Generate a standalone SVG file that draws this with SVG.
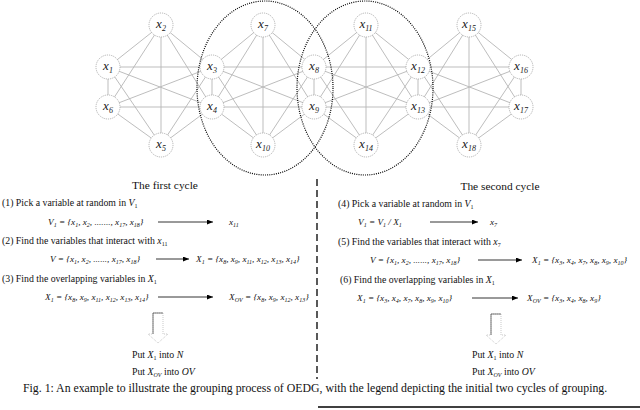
<svg xmlns="http://www.w3.org/2000/svg" width="640" height="410" viewBox="0 0 640 410">
<defs>
<style>
.t{font-family:"Liberation Serif","Times New Roman",serif;font-size:9.8px;fill:#111}
.h{font-family:"Liberation Serif","Times New Roman",serif;font-size:11.4px;fill:#111;text-anchor:middle}
.m{font-family:"Liberation Serif","Times New Roman",serif;font-size:9.2px;font-style:italic;fill:#111}
.i{font-style:italic}
.s{font-size:6px}
.cap{font-family:"Liberation Serif","Times New Roman",serif;font-size:11.8px;fill:#111}
.edge{stroke:#b5b5b5;stroke-width:0.9;fill:none}
.node circle{fill:#fff;stroke:#a0a0a0;stroke-width:0.8;stroke-dasharray:1.2 1}
.node text{font-family:"Liberation Serif","Times New Roman",serif;font-size:13px;font-style:italic;fill:#222;text-anchor:middle}
.node .ns{font-size:8px}
.ell{fill:none;stroke:#000;stroke-width:1.2;stroke-dasharray:1 1.2}
.arr{stroke:#000;stroke-width:0.8;marker-end:url(#ah)}
.div{stroke:#000;stroke-width:1.3;stroke-dasharray:7 4}
.ha{fill:#fff;stroke:#bbb;stroke-width:0.8;stroke-dasharray:1 1}
.hl{fill:none;stroke:#555;stroke-width:0.8}
</style>
<marker id="ah" markerWidth="6" markerHeight="5" refX="6" refY="2.5" orient="auto" markerUnits="userSpaceOnUse"><path d="M0,0L6,2.5L0,5z" fill="#000"/></marker>
</defs>
<rect width="640" height="410" fill="#fff"/>
<g id="connectors">
<path class="edge" d="M108 67L161 25M108 67L212 67M108 67L212 107M108 67L161 145M108 67L108 107M161 25L212 67M161 25L212 107M161 25L161 145M161 25L108 107M212 67L212 107M212 67L161 145M212 67L108 107M212 107L161 145M212 107L108 107M161 145L108 107
M212 67L263 25M212 67L314 67M212 67L314 107M212 67L263 145M212 107L263 25M212 107L314 67M212 107L314 107M212 107L263 145M263 25L314 67M263 25L314 107M263 25L263 145M314 67L314 107M314 67L263 145M314 107L263 145
M314 67L366 25M314 67L418 67M314 67L418 107M314 67L366 145M314 107L366 25M314 107L418 67M314 107L418 107M314 107L366 145M366 25L418 67M366 25L418 107M366 25L366 145M418 67L418 107M418 67L366 145M418 107L366 145
M418 67L469 25M418 67L521 67M418 67L521 107M418 67L469 145M418 107L469 25M418 107L521 67M418 107L521 107M418 107L469 145M469 25L521 67M469 25L521 107M469 25L469 145M521 67L521 107M521 67L469 145M521 107L469 145"/>
</g>
<g id="n1" class="node"><circle cx="108" cy="67" r="12"/><text x="108" y="70">x<tspan class="ns" dy="3">1</tspan></text></g>
<g id="n2" class="node"><circle cx="161" cy="25" r="12"/><text x="161" y="28">x<tspan class="ns" dy="3">2</tspan></text></g>
<g id="n3" class="node"><circle cx="212" cy="67" r="12"/><text x="212" y="70">x<tspan class="ns" dy="3">3</tspan></text></g>
<g id="n4" class="node"><circle cx="212" cy="107" r="12"/><text x="212" y="110">x<tspan class="ns" dy="3">4</tspan></text></g>
<g id="n5" class="node"><circle cx="161" cy="145" r="12"/><text x="161" y="148">x<tspan class="ns" dy="3">5</tspan></text></g>
<g id="n6" class="node"><circle cx="108" cy="107" r="12"/><text x="108" y="110">x<tspan class="ns" dy="3">6</tspan></text></g>
<g id="n7" class="node"><circle cx="263" cy="25" r="12"/><text x="263" y="28">x<tspan class="ns" dy="3">7</tspan></text></g>
<g id="n8" class="node"><circle cx="314" cy="67" r="12"/><text x="314" y="70">x<tspan class="ns" dy="3">8</tspan></text></g>
<g id="n9" class="node"><circle cx="314" cy="107" r="12"/><text x="314" y="110">x<tspan class="ns" dy="3">9</tspan></text></g>
<g id="n10" class="node"><circle cx="263" cy="145" r="12"/><text x="263" y="148">x<tspan class="ns" dy="3">10</tspan></text></g>
<g id="n11" class="node"><circle cx="366" cy="25" r="12"/><text x="366" y="28">x<tspan class="ns" dy="3">11</tspan></text></g>
<g id="n12" class="node"><circle cx="418" cy="67" r="12"/><text x="418" y="70">x<tspan class="ns" dy="3">12</tspan></text></g>
<g id="n13" class="node"><circle cx="418" cy="107" r="12"/><text x="418" y="110">x<tspan class="ns" dy="3">13</tspan></text></g>
<g id="n14" class="node"><circle cx="366" cy="145" r="12"/><text x="366" y="148">x<tspan class="ns" dy="3">14</tspan></text></g>
<g id="n15" class="node"><circle cx="469" cy="25" r="12"/><text x="469" y="28">x<tspan class="ns" dy="3">15</tspan></text></g>
<g id="n16" class="node"><circle cx="521" cy="67" r="12"/><text x="521" y="70">x<tspan class="ns" dy="3">16</tspan></text></g>
<g id="n17" class="node"><circle cx="521" cy="107" r="12"/><text x="521" y="110">x<tspan class="ns" dy="3">17</tspan></text></g>
<g id="n18" class="node"><circle cx="469" cy="145" r="12"/><text x="469" y="148">x<tspan class="ns" dy="3">18</tspan></text></g>
<g id="groups">
<ellipse class="ell" cx="265" cy="88" rx="68" ry="87"/>
<ellipse class="ell" cx="365" cy="88" rx="68" ry="87"/>
</g>
<line class="div" x1="317" y1="179" x2="317" y2="379"/>
<g id="left">
<text class="h" x="165" y="189">The first cycle</text>
<text class="t" x="2" y="206">(1) Pick a variable at random in <tspan class="i">V</tspan><tspan class="s" dy="2">1</tspan></text>
<text class="m" x="48" y="225">V<tspan class="s" dy="2">1</tspan><tspan dy="-2"> = {x</tspan><tspan class="s" dy="2">1</tspan><tspan dy="-2">, x</tspan><tspan class="s" dy="2">2</tspan><tspan dy="-2">, ......., x</tspan><tspan class="s" dy="2">17</tspan><tspan dy="-2">, x</tspan><tspan class="s" dy="2">18</tspan><tspan dy="-2">}</tspan></text>
<text class="m" x="229" y="225">x<tspan class="s" dy="2">11</tspan></text>
<text class="t" x="2" y="244">(2) Find the variables that interact with <tspan class="i">x</tspan><tspan class="s" dy="2">11</tspan></text>
<text class="m" x="50" y="262">V = {x<tspan class="s" dy="2">1</tspan><tspan dy="-2">, x</tspan><tspan class="s" dy="2">2</tspan><tspan dy="-2">, ......, x</tspan><tspan class="s" dy="2">17</tspan><tspan dy="-2">, x</tspan><tspan class="s" dy="2">18</tspan><tspan dy="-2">}</tspan></text>
<text class="m" x="196" y="262">X<tspan class="s" dy="2">1</tspan><tspan dy="-2"> = {x</tspan><tspan class="s" dy="2">8</tspan><tspan dy="-2">, x</tspan><tspan class="s" dy="2">9</tspan><tspan dy="-2">, x</tspan><tspan class="s" dy="2">11</tspan><tspan dy="-2">, x</tspan><tspan class="s" dy="2">12</tspan><tspan dy="-2">, x</tspan><tspan class="s" dy="2">13</tspan><tspan dy="-2">, x</tspan><tspan class="s" dy="2">14</tspan><tspan dy="-2">}</tspan></text>
<text class="t" x="2" y="282">(3) Find the overlapping variables in <tspan class="i">X</tspan><tspan class="s" dy="2">1</tspan></text>
<text class="m" x="45" y="300">X<tspan class="s" dy="2">1</tspan><tspan dy="-2"> = {x</tspan><tspan class="s" dy="2">8</tspan><tspan dy="-2">, x</tspan><tspan class="s" dy="2">9</tspan><tspan dy="-2">, x</tspan><tspan class="s" dy="2">11</tspan><tspan dy="-2">, x</tspan><tspan class="s" dy="2">12</tspan><tspan dy="-2">, x</tspan><tspan class="s" dy="2">13</tspan><tspan dy="-2">, x</tspan><tspan class="s" dy="2">14</tspan><tspan dy="-2">}</tspan></text>
<text class="m" x="229" y="300">X<tspan class="s" dy="2">OV</tspan><tspan dy="-2"> = {x</tspan><tspan class="s" dy="2">8</tspan><tspan dy="-2">, x</tspan><tspan class="s" dy="2">9</tspan><tspan dy="-2">, x</tspan><tspan class="s" dy="2">12</tspan><tspan dy="-2">, x</tspan><tspan class="s" dy="2">13</tspan><tspan dy="-2">}</tspan></text>
<path class="ha" d="M153 313H163V334H168L158 343L148 334H153Z"/>
<path class="hl" d="M153 334V313H163"/>
<text class="t" x="132" y="358">Put <tspan class="i">X</tspan><tspan class="s" dy="2">1</tspan><tspan dy="-2"> into </tspan><tspan class="i">N</tspan></text>
<text class="t" x="132" y="375">Put <tspan class="i">X</tspan><tspan class="s i" dy="2">OV</tspan><tspan dy="-2"> into </tspan><tspan class="i">OV</tspan></text>
</g>
<g id="right">
<text class="h" x="500" y="190">The second cycle</text>
<text class="t" x="338" y="207">(4) Pick a variable at random in  <tspan class="i">V</tspan><tspan class="s" dy="2">1</tspan></text>
<text class="m" x="358" y="225">V<tspan class="s" dy="2">1</tspan><tspan dy="-2"> = V</tspan><tspan class="s" dy="2">1</tspan><tspan dy="-2"> / X</tspan><tspan class="s" dy="2">1</tspan></text>
<text class="m" x="490" y="225">x<tspan class="s" dy="2">7</tspan></text>
<text class="t" x="338" y="245">(5) Find the variables that interact with  <tspan class="i">x</tspan><tspan class="s" dy="2">7</tspan></text>
<text class="m" x="370" y="263">V = {x<tspan class="s" dy="2">1</tspan><tspan dy="-2">, x</tspan><tspan class="s" dy="2">2</tspan><tspan dy="-2">, ......, x</tspan><tspan class="s" dy="2">17</tspan><tspan dy="-2">, x</tspan><tspan class="s" dy="2">18</tspan><tspan dy="-2">}</tspan></text>
<text class="m" x="532" y="263">X<tspan class="s" dy="2">1</tspan><tspan dy="-2"> = {x</tspan><tspan class="s" dy="2">3</tspan><tspan dy="-2">, x</tspan><tspan class="s" dy="2">4</tspan><tspan dy="-2">, x</tspan><tspan class="s" dy="2">7</tspan><tspan dy="-2">, x</tspan><tspan class="s" dy="2">8</tspan><tspan dy="-2">, x</tspan><tspan class="s" dy="2">9</tspan><tspan dy="-2">, x</tspan><tspan class="s" dy="2">10</tspan><tspan dy="-2">}</tspan></text>
<text class="t" x="340" y="283">(6) Find the overlapping variables in  <tspan class="i">X</tspan><tspan class="s" dy="2">1</tspan></text>
<text class="m" x="357" y="301">X<tspan class="s" dy="2">1</tspan><tspan dy="-2"> = {x</tspan><tspan class="s" dy="2">3</tspan><tspan dy="-2">, x</tspan><tspan class="s" dy="2">4</tspan><tspan dy="-2">, x</tspan><tspan class="s" dy="2">7</tspan><tspan dy="-2">, x</tspan><tspan class="s" dy="2">8</tspan><tspan dy="-2">, x</tspan><tspan class="s" dy="2">9</tspan><tspan dy="-2">, x</tspan><tspan class="s" dy="2">10</tspan><tspan dy="-2">}</tspan></text>
<text class="m" x="527" y="301">X<tspan class="s" dy="2">OV</tspan><tspan dy="-2"> = {x</tspan><tspan class="s" dy="2">3</tspan><tspan dy="-2">, x</tspan><tspan class="s" dy="2">4</tspan><tspan dy="-2">, x</tspan><tspan class="s" dy="2">8</tspan><tspan dy="-2">, x</tspan><tspan class="s" dy="2">9</tspan><tspan dy="-2">}</tspan></text>
<path class="ha" d="M491 314H501V335H506L496 344L486 335H491Z"/>
<path class="hl" d="M491 335V314H501"/>
<text class="t" x="472" y="358">Put <tspan class="i">X</tspan><tspan class="s" dy="2">1</tspan><tspan dy="-2"> into </tspan><tspan class="i">N</tspan></text>
<text class="t" x="472" y="375">Put  <tspan class="i">X</tspan><tspan class="s i" dy="2">OV</tspan><tspan dy="-2"> into </tspan><tspan class="i">OV</tspan></text>
</g>
<g id="arrows">
<line class="arr" x1="158" y1="222" x2="213" y2="222"/>
<line class="arr" x1="156" y1="259" x2="189" y2="259"/>
<line class="arr" x1="158" y1="297" x2="213" y2="297"/>
<line class="arr" x1="430" y1="222" x2="478" y2="222"/>
<line class="arr" x1="478" y1="260" x2="522" y2="260"/>
<line class="arr" x1="472" y1="298" x2="518" y2="298"/>
</g>
<text class="cap" x="23" y="392">Fig. 1: An example to illustrate the grouping process of OEDG, with the legend depicting the initial two cycles of grouping.</text>
<line x1="318" y1="407" x2="640" y2="407" stroke="#000" stroke-width="1.5"/>
</svg>
